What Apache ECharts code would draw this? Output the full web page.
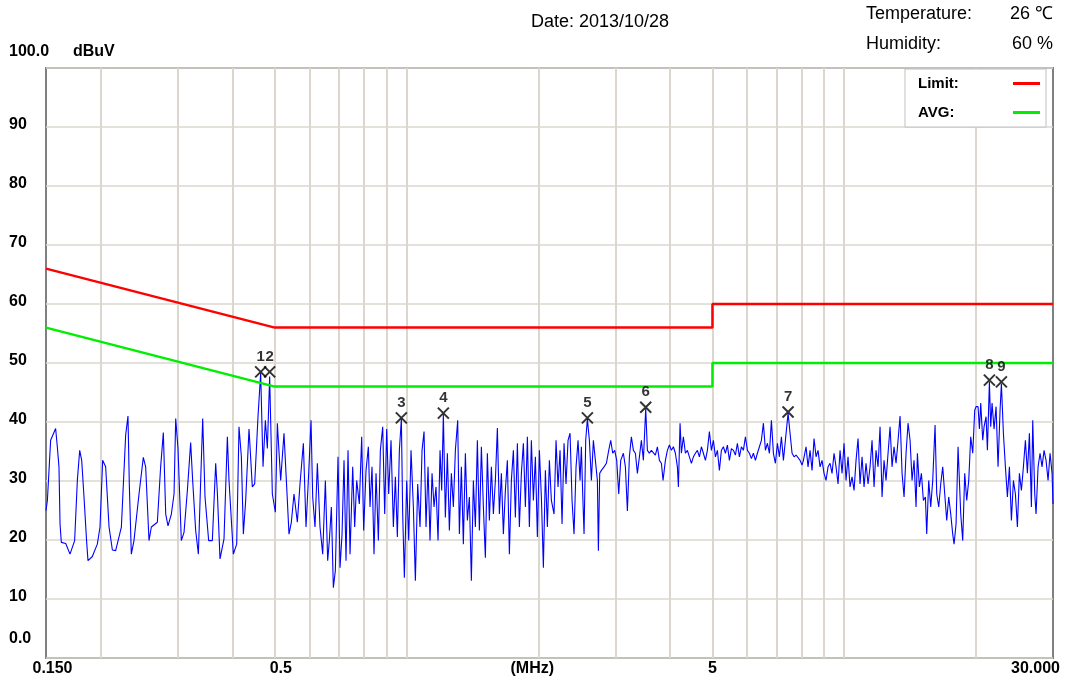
<!DOCTYPE html>
<html>
<head>
<meta charset="utf-8">
<title>Conducted emission</title>
<script src="https://cdn.jsdelivr.net/npm/echarts/dist/echarts.min.js"></script>
<style>
html,body{margin:0;padding:0;background:#fff;}
#emiChart{width:1065px;height:684px;}
</style>
</head>
<body>
<div id="emiChart"></div>
<script>
// sweep trace, MHz / dBuV
var traceFreq = [
0.150,0.1511,0.1537,0.1578,0.1592,0.1606,0.1615,0.1626,0.1664,0.1702,0.1744,0.1769,0.1791,0.1810,0.1832,0.1858,0.1871,0.1914,0.1965,0.1993,
0.2021,0.2053,0.2090,0.2127,0.2164,0.2230,0.2281,0.2309,0.2325,0.2350,0.2383,0.2447,0.2503,0.2534,0.2579,0.2611,0.2695,0.2742,0.2781,0.2816,
0.2850,0.2901,0.2942,0.2968,0.3004,0.3036,0.3057,0.3101,0.3156,0.3211,0.3245,0.3297,0.3344,0.3385,0.3421,0.3463,0.3530,0.3599,0.3663,0.3695,
0.3747,0.3827,0.3895,0.3929,0.4020,0.4091,0.4141,0.4193,0.4237,0.4289,0.4365,0.4442,0.4497,0.4577,0.4641,0.4699,0.4757,0.4807,0.4866,0.4935,
0.5014,0.5067,0.5156,0.5247,0.5322,0.5387,0.5454,0.5531,0.5629,0.5708,
0.5810,0.5892,0.5975,0.6049,0.6102,0.6177,0.6254,0.6342,0.6432,0.6523,0.6603,0.6661,0.6732,0.6803,0.6875,0.6972,0.7046,0.7121,0.7196,0.7272,
0.7349,0.7427,0.7532,0.7611,0.7692,0.7800,0.7897,0.7980,0.8079,0.8179,0.8251,0.8338,0.8426,0.8516,0.8621,0.8712,0.8820,0.8913,0.9007,0.9102,
0.9215,0.9329,0.9428,0.9527,0.9628,0.9730,0.9798,0.9885,1.0007,1.0113,1.0238,1.0364,1.0474,1.0603,1.0734,1.0848,1.0963,1.1078,1.1196,1.1314,
1.1434,1.1555,1.1677,1.1801,1.1926,1.2030,1.2136,1.2265,1.2395,1.2526,1.2658,1.2792,1.2928,1.3087,1.3203,1.3342,1.3483,1.3626,1.3770,1.3916,
1.4063,1.4212,1.4362,1.4514,1.4668,1.4823,1.4980,1.5138,1.5298,1.5460,1.5624,1.5789,1.5956,1.6125,1.6296,1.6468,1.6642,1.6818,1.6996,1.7176,
1.7358,1.7542,1.7727,1.7915,1.8104,1.8296,1.8489,1.8685,1.8883,1.9082,1.9284,1.9488,1.9695,1.9903,2.0114,2.0326,2.0541,2.0759,2.0978,2.1200,
2.1425,
2.1726,2.1956,2.2188,2.2423,2.2660,2.2900,2.3142,2.3387,2.3635,2.3885,2.4137,2.4393,2.4651,2.4912,2.5087,2.5264,2.5442,2.5666,2.5892,2.6166,
2.6443,2.6722,2.7005,2.7291,2.7435,2.7628,2.7872,2.8265,2.8615,2.8968,2.9274,2.9584,2.9897,3.0213,3.0533,3.0856,3.1292,3.1623,3.1958,3.2296,
3.2638,3.2983,3.3332,3.3685,3.4041,3.4401,3.4765,3.5195,3.5505,3.5880,3.6260,3.6643,3.7031,3.7423,3.7819,3.8219,3.8555,3.9032,3.9445,3.9862,
4.0284,4.0710,4.1141,4.1576,4.1796,4.2164,4.2460,4.2910,4.3364,4.3823,4.4287,4.4755,4.5229,4.5707,4.6190,4.6679,4.7173,4.7672,4.8177,4.8686,
4.9201,4.9722,5.0248,5.0780,5.1317,5.1860,5.2409,5.2963,5.3524,5.4090,5.4662,5.5240,5.5825,5.6415,5.7012,5.7615,5.8225,5.8841,5.9464,6.0093,
6.0729,6.1371,6.2020,6.2677,6.3340,6.4010,6.4687,6.5372,6.6063,6.6762,6.7469,6.8183,6.8904,6.9633,7.0370,7.1114,7.1867,7.2627,7.3396,7.4427,
7.5214,7.6010,7.6814,7.7627,7.8448,7.9278,8.0117,8.0688,
8.1810,8.2677,8.3551,8.4435,8.5328,8.6231,8.7144,8.8065,8.8997,8.9938,9.0890,9.1851,9.2823,9.3805,9.4798,9.5801,9.6815,9.7839,9.8874,9.9920,
10.098,10.204,10.313,10.422,10.532,10.643,10.756,10.870,10.985,11.101,11.218,11.337,11.457,11.578,11.701,11.824,11.950,12.076,12.204,12.333,
12.463,12.595,12.729,12.863,12.999,13.137,13.276,13.417,13.559,13.702,13.847,13.993,14.142,14.291,14.442,14.595,14.698,14.853,15.010,15.169,
15.330,15.437,15.601,15.766,15.933,16.130,16.272,16.444,16.618,16.793,16.971,17.151,17.332,17.516,17.701,17.826,18.014,18.205,18.333,18.462,
18.657,18.855,19.054,19.256,19.459,19.665,19.873,20.013,20.225,20.368,20.511,20.728,20.874,21.095,21.243,21.468,21.618,21.771,22.001,22.234,
22.469,22.707,22.867,23.109,23.354,23.601,23.850,24.103,24.358,24.616,24.876,25.139,25.405,25.674,25.946,26.220,26.498,26.778,26.966,27.252,
27.443,27.734,28.025,28.321,28.621,28.924,29.230,29.539,29.852,30.000
];
var traceLevel = [
25.0,26.7,36.9,38.9,35.8,32.4,22.7,19.6,19.4,17.6,19.9,30.1,35.2,33.5,27.3,19.6,16.5,17.2,19.3,22.2,
33.5,32.4,22.2,18.3,18.2,22.2,37.8,41.0,29.5,17.6,19.9,27.8,34.0,32.4,19.9,22.2,23.0,32.4,38.2,24.4,
22.4,24.4,27.8,40.6,35.5,26.1,19.9,21.3,28.4,36.5,30.1,21.6,17.6,30.1,40.6,27.3,19.9,19.9,33.0,28.1,
16.8,20.2,37.5,30.1,17.6,19.3,39.2,34.1,21.0,26.7,38.8,29.0,29.5,41.0,48.3,32.4,40.3,35.5,47.7,27.8,
24.7,39.8,30.1,38.1,29.0,21.0,23.0,27.8,23.0,29.5,
36.4,22.2,31.3,40.3,27.3,22.2,33.0,22.2,17.6,30.1,16.5,19.9,25.6,11.9,14.8,34.1,15.3,21.0,33.5,16.5,
35.2,17.6,32.4,22.2,30.1,26.1,37.5,21.6,31.8,35.8,25.6,32.4,17.6,31.3,19.9,35.2,39.2,24.4,38.8,27.8,
36.9,22.2,30.7,20.5,35.2,40.5,24.4,13.6,30.1,19.9,35.2,25.6,13.1,29.5,22.2,35.2,38.4,22.2,32.4,19.9,
31.3,25.6,29.0,19.9,35.2,28.4,41.3,23.8,34.7,21.6,31.3,25.6,35.2,40.3,21.0,32.4,19.3,34.7,23.3,27.3,
13.1,30.1,22.2,36.9,21.6,35.8,25.6,17.0,34.7,23.3,32.4,24.4,30.1,39.0,24.4,31.3,21.0,28.4,33.5,17.6,
30.1,35.2,23.8,36.4,22.2,31.3,36.4,25.6,37.5,22.2,36.9,26.7,34.1,20.5,35.2,27.3,15.3,31.8,22.2,33.5,
26.7,
24.4,36.9,29.0,35.2,22.7,36.4,29.5,36.9,38.1,26.7,21.0,32.4,36.9,30.1,35.8,27.8,21.0,36.9,40.5,36.9,
30.1,36.9,33.5,30.1,18.2,31.3,31.8,32.4,33.0,35.2,36.9,34.7,35.2,33.5,27.8,33.5,34.7,32.4,24.9,34.1,
37.5,35.2,34.7,31.3,34.1,36.9,33.5,42.3,35.2,34.7,35.2,35.5,34.4,35.8,33.5,33.0,30.1,33.5,35.2,36.1,
35.2,35.8,34.7,32.4,29.0,39.8,34.7,37.5,34.7,35.2,34.1,33.0,34.1,34.7,35.2,34.1,35.8,34.7,33.5,35.2,
38.4,35.2,36.9,34.1,35.2,31.8,35.2,35.8,34.7,36.1,33.5,35.5,35.2,34.4,36.4,34.1,35.8,35.2,37.5,35.2,
34.7,33.8,34.7,33.5,34.7,35.8,36.9,39.8,35.2,36.4,34.7,40.3,34.7,33.0,36.4,34.1,37.5,33.5,36.9,41.5,
38.1,34.7,34.1,34.4,34.1,33.5,32.7,33.5,
35.8,32.4,35.2,31.8,37.2,34.1,35.2,32.4,33.5,31.3,30.1,32.4,33.0,31.3,34.7,32.4,29.5,35.2,31.3,36.4,
30.1,34.1,29.0,30.7,28.4,33.5,37.2,29.5,34.1,29.0,33.0,29.5,32.4,36.9,29.0,35.2,32.4,39.2,27.3,33.5,
30.1,34.7,39.2,32.4,35.8,33.0,36.9,41.0,31.3,27.3,34.7,39.8,36.9,30.1,33.5,25.6,34.7,29.0,31.3,26.7,
27.3,21.0,30.1,25.6,30.1,39.5,27.8,25.6,29.5,32.4,27.8,23.3,27.3,24.4,21.0,19.3,22.7,35.8,30.1,24.4,
19.9,31.3,26.7,30.1,37.5,34.7,42.0,42.6,42.6,38.8,43.2,36.9,39.2,40.9,35.2,46.8,39.2,43.2,38.8,42.6,
32.4,42.0,46.5,38.1,32.4,27.3,32.4,23.3,30.1,27.8,22.2,31.3,28.4,32.4,36.9,31.3,38.1,25.6,40.3,27.8,
24.4,32.4,34.7,32.4,35.2,33.5,30.1,34.7,31.3,26.1
];

// limit lines (step at 5 MHz)
var limitFreq = [0.15, 0.5, 5, 5, 30];
var limitQP = [66, 56, 56, 60, 60];
var limitAVG = [56, 46, 46, 50, 50];

// marked peaks 1..9
var markFreq = [0.4641, 0.4866, 0.9730, 1.2136, 2.5892, 3.5195, 7.4427, 21.468, 22.867];
var markLevel = [48.5, 48.5, 40.7, 41.5, 40.7, 42.5, 41.7, 47.1, 46.8];

// axis ticks
var gridFreq = [0.2, 0.3, 0.4, 0.5, 0.6, 0.7, 0.8, 0.9, 1, 2, 3, 4, 5, 6, 7, 8, 9, 10, 20];
var labelFreq = [0.15, 0.5, 2, 5, 30];
var labelText = ['{a|0.150}', '{b|0.5}', '{c|(MHz)}', '5', '{d|30.000}'];

var pairs = function(xs, ys){
    return xs.map(function(x, i){ return [x, ys[i]]; });
};

var FONT = 'Liberation Sans, Arial, sans-serif';
var headStyle = {fontSize:18, fontWeight:'normal', color:'#000', fontFamily:FONT};
var chart = echarts.init(document.getElementById('emiChart'));

chart.setOption({
    animation:false,
    backgroundColor:'#fff',
    textStyle:{fontFamily:FONT},
    title:[
        {text:'Date: 2013/10/28', left:531, top:13, padding:0, textStyle:headStyle},
        {text:'Temperature:', left:866, top:5, padding:0, textStyle:headStyle},
        {text:'26 ℃', right:12, top:5, padding:0, textStyle:headStyle},
        {text:'Humidity:', left:866, top:35, padding:0, textStyle:headStyle},
        {text:'60 %', right:12, top:35, padding:0, textStyle:headStyle}
    ],
    legend:{
        data:['Limit:', 'AVG:'],
        orient:'vertical',
        right:19,
        top:69,
        align:'right',
        icon:'rect',
        itemWidth:27,
        itemHeight:3,
        itemGap:14,
        padding:[7, 6, 7, 13],
        backgroundColor:'#fff',
        borderColor:'#c0c0c0',
        borderWidth:1,
        borderRadius:0,
        selectedMode:false,
        formatter:function(name){ return '{n|' + name + '}'; },
        textStyle:{
            rich:{n:{width:90, align:'left', fontSize:15, fontWeight:'bold', color:'#000', fontFamily:FONT}}
        }
    },
    grid:{
        left:46,
        right:12,
        top:68,
        bottom:26,
        show:true,
        borderColor:'#808080',
        borderWidth:2
    },
    xAxis:{
        type:'log',
        logBase:10,
        min:0.15,
        max:30,
        axisLine:{show:false},
        axisTick:{show:false, customValues:gridFreq},
        splitLine:{show:true, lineStyle:{color:'#dbd7cf', width:2}},
        axisLabel:{
            customValues:labelFreq,
            margin:3,
            fontSize:16,
            fontWeight:'bold',
            color:'#000',
            formatter:function(v){
                var i = labelFreq.indexOf(v);
                return i >= 0 ? labelText[i] : '';
            },
            rich:{
                a:{padding:[0,0,0,13], fontSize:16, fontWeight:'bold', color:'#000', fontFamily:FONT},
                b:{padding:[0,0,0,12], fontSize:16, fontWeight:'bold', color:'#000', fontFamily:FONT},
                c:{padding:[0,12,0,0], fontSize:16, fontWeight:'bold', color:'#000', fontFamily:FONT},
                d:{padding:[0,35,0,0], fontSize:16, fontWeight:'bold', color:'#000', fontFamily:FONT}
            }
        }
    },
    yAxis:{
        type:'value',
        min:0,
        max:100,
        interval:10,
        name:'dBuV',
        nameLocation:'end',
        nameGap:16,
        nameTextStyle:{align:'left', verticalAlign:'middle', padding:[0,0,0,27], fontSize:16, fontWeight:'bold', color:'#000'},
        axisLine:{show:false},
        axisTick:{show:false},
        splitLine:{lineStyle:{color:'#dbd7cf', width:1.5}},
        axisLabel:{
            align:'left',
            margin:37,
            fontSize:16,
            fontWeight:'bold',
            color:'#000',
            formatter:function(v){
                if (v === 0) return '{z|0.0}';
                if (v === 100) return '{t|100.0}';
                return '{n|' + v + '}';
            },
            rich:{
                n:{padding:[0,0,4,0], fontSize:16, fontWeight:'bold', color:'#000', fontFamily:FONT},
                z:{padding:[0,0,38,0], fontSize:16, fontWeight:'bold', color:'#000', fontFamily:FONT},
                t:{padding:[0,0,33,0], fontSize:16, fontWeight:'bold', color:'#000', fontFamily:FONT}
            }
        }
    },
    series:[
        {
            name:'trace',
            type:'line',
            data:pairs(traceFreq, traceLevel),
            showSymbol:false,
            lineStyle:{color:'#0000ff', width:1.1},
            itemStyle:{color:'#0000ff'},
            z:2
        },
        {
            name:'Limit:',
            type:'line',
            data:pairs(limitFreq, limitQP),
            showSymbol:false,
            lineStyle:{color:'#ff0000', width:2.5},
            itemStyle:{color:'#ff0000'},
            z:3
        },
        {
            name:'AVG:',
            type:'line',
            data:pairs(limitFreq, limitAVG),
            showSymbol:false,
            lineStyle:{color:'#00ee00', width:2.5},
            itemStyle:{color:'#00ee00'},
            z:3
        },
        {
            name:'marks',
            type:'scatter',
            data:pairs(markFreq, markLevel),
            symbol:'path://M0 0L10 10M10 0L0 10',
            symbolSize:11,
            itemStyle:{color:'rgba(0,0,0,0)', borderColor:'#000', borderWidth:2},
            label:{
                show:true,
                position:'top',
                distance:1,
                fontSize:15,
                fontWeight:'bold',
                color:'#000',
                formatter:function(p){ return String(p.dataIndex + 1); }
            },
            z:4
        }
    ]
});
</script>
</body>
</html>
